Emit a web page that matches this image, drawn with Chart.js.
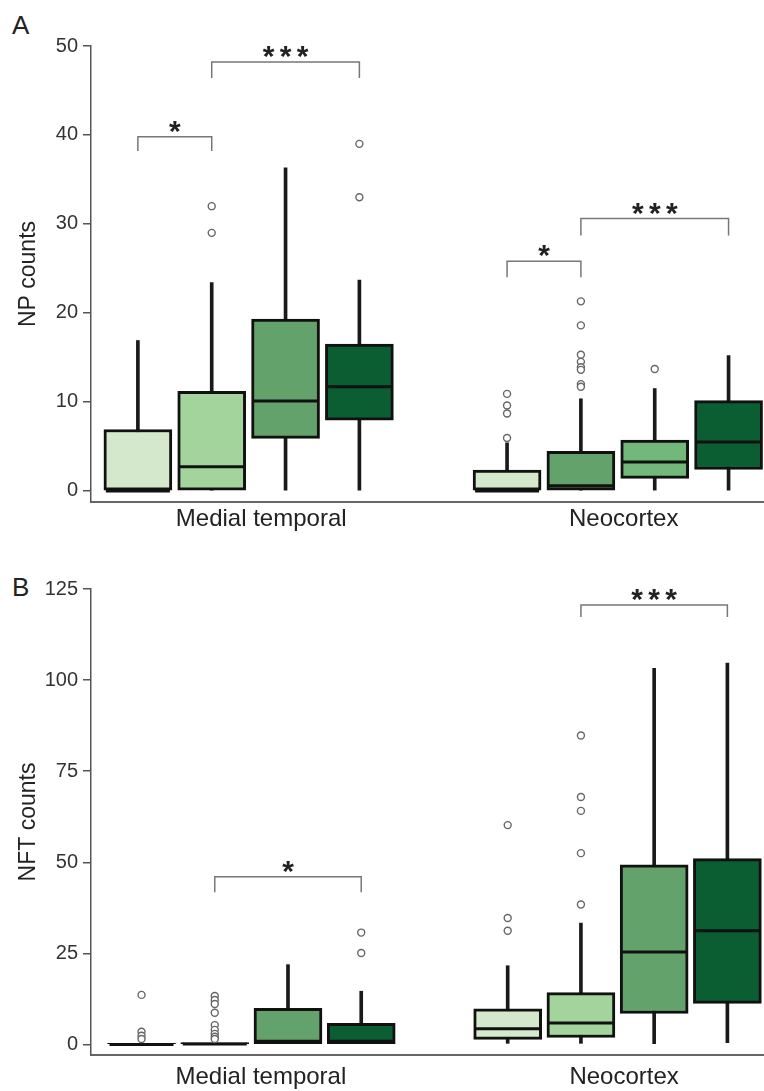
<!DOCTYPE html>
<html>
<head>
<meta charset="utf-8">
<script src="https://cdn.jsdelivr.net/npm/chart.js@4.4.0/dist/chart.umd.min.js"></script>
<style>
  body { margin: 0; background: #fff; width: 764px; height: 1091px; position: relative; overflow: hidden;
         font-family: "Liberation Sans", Arial, sans-serif; }
  .letter { position: absolute; left: 12px; font-size: 26px; line-height: 1; color: #222; }
  canvas { position: absolute; left: 0; }
</style>
</head>
<body>
<div class="letter" style="top:12px">A</div>
<div class="letter" style="top:574px">B</div>
<canvas id="npChart" width="764" height="545" style="top:0"></canvas>
<canvas id="nftChart" width="764" height="546" style="top:545px"></canvas>
<script>
const regions = ['Medial temporal', 'Neocortex'];

// each box: [whisker low, Q1, median, Q3, whisker high]
const npMedial = [
  [0, 0, 0, 6.9, 16.9],
  [0, 0, 2.7, 11.2, 23.4],
  [0, 5.9, 10.1, 19.3, 36.3],
  [0, 7.95, 11.7, 16.5, 23.7]
];
const npNeo = [
  [0, 0, 0, 2.35, 5.4],
  [0, 0, 0.57, 4.45, 10.35],
  [0, 1.4, 3.25, 5.7, 11.5],
  [0, 2.4, 5.5, 10.15, 15.2]
];
const npMedialOutliers = [[], [32.0, 29.0], [], [39.0, 33.0]];
const npNeoOutliers = [[10.9, 9.6, 8.7, 5.95], [21.3, 18.6, 15.3, 14.5, 13.9, 13.6, 12.0, 11.7], [13.7], []];
const npTicks = [0, 10, 20, 30, 40, 50];

const nftMedial = [
  [0, 0, 0, 0.3, 0.3],
  [0, 0, 0.1, 0.5, 0.5],
  [0, 0, 0.9, 9.9, 21.9],
  [0, 0, 0.9, 5.8, 14.6]
];
const nftNeo = [
  [0.3, 1.4, 4.3, 9.75, 21.6],
  [0.3, 1.9, 5.85, 14.2, 33.3],
  [0, 8.5, 25.4, 49.3, 103.2],
  [0.5, 11.25, 31.2, 51.0, 104.7]
];
const nftMedialOutliers = [[13.6, 3.5, 2.4, 1.5], [13.3, 12.2, 11.1, 8.7, 5.3, 4.0, 2.9, 2.1, 1.5], [], [30.7, 25.1]];
const nftNeoOutliers = [[60.2, 34.7, 31.2], [84.8, 67.9, 64.1, 52.5, 38.4], [], []];
const nftTicks = [0, 25, 50, 75, 100, 125];

// significance brackets: region, first box, last box, bracket height, bottom of the legs
const npSignif = [
  { region: 0, from: 0, to: 1, y: 39.8, drop: 38.2, label: '*' },
  { region: 0, from: 1, to: 3, y: 48.2, drop: 46.4, label: '***' },
  { region: 1, from: 0, to: 1, y: 25.8, drop: 24.0, label: '*' },
  { region: 1, from: 1, to: 3, y: 30.6, drop: 28.7, label: '***' }
];
const nftSignif = [
  { region: 0, from: 1, to: 3, y: 46.0, drop: 41.8, label: '*' },
  { region: 1, from: 1, to: 3, y: 120.6, drop: 117.3, label: '***' }
];

const lightest = '#d4e9cc', light = '#a3d49c', mid = '#64a26c', midLight = '#73b87b', dark = '#0a5e32';
const npColors = [[lightest, light, mid, dark], [lightest, mid, midLight, dark]];
const nftColors = [[lightest, light, mid, dark], [lightest, light, mid, dark]];

Chart.defaults.font.family = '"Liberation Sans", Arial, sans-serif';

const xOf = (region, k) => region * 5 + k;

const bracketPlugin = {
  id: 'brackets',
  afterDatasetsDraw(chart, args, opts) {
    const { ctx, scales: { x, y } } = chart;
    ctx.save();
    opts.items.forEach(b => {
      const x1 = x.getPixelForValue(xOf(b.region, b.from));
      const x2 = x.getPixelForValue(xOf(b.region, b.to));
      const yTop = y.getPixelForValue(b.y);
      const yBot = y.getPixelForValue(b.drop);
      ctx.strokeStyle = '#777';
      ctx.lineWidth = 1.5;
      ctx.beginPath();
      ctx.moveTo(x1, yBot);
      ctx.lineTo(x1, yTop);
      ctx.lineTo(x2, yTop);
      ctx.lineTo(x2, yBot);
      ctx.stroke();

      ctx.fillStyle = '#222';
      ctx.font = 'bold 30px "Liberation Sans", Arial, sans-serif';
      ctx.textAlign = 'center';
      ctx.textBaseline = 'alphabetic';
      const m = ctx.measureText('*');
      const cy = yTop - 10;
      const base = cy + (m.actualBoundingBoxAscent - m.actualBoundingBoxDescent) / 2;
      const n = b.label.length;
      const cx = (x1 + x2) / 2;
      for (let i = 0; i < n; i++) {
        ctx.fillText('*', cx + (i - (n - 1) / 2) * 17, base);
      }
    });
    ctx.restore();
  }
};

function makeChart(id, cfg) {
  const boxes = [], whiskers = [], medians = [], outliers = [], colors = [];
  cfg.groups.forEach((g, r) => {
    g.forEach((b, k) => {
      const x = xOf(r, k);
      whiskers.push({ x: x, y: [b[0], b[4]] });
      boxes.push({ x: x, y: [b[1], b[3]] });
      medians.push({ x: x, y: b[2] });
      colors.push(cfg.colors[r][k]);
      cfg.outliers[r][k].forEach(v => outliers.push({ x: x, y: v }));
    });
  });

  return new Chart(document.getElementById(id), {
    type: 'bar',
    data: {
      datasets: [
        { type: 'bar', data: whiskers, backgroundColor: '#1a1a1a', borderWidth: 0,
          barThickness: 3, maxBarThickness: 3, grouped: false, order: 3 },
        { type: 'bar', data: boxes, backgroundColor: colors, borderColor: '#111', borderWidth: 3,
          borderSkipped: false, barThickness: 68, maxBarThickness: 68, grouped: false, order: 2 },
        { type: 'scatter', data: medians, pointStyle: 'line', pointRadius: 32,
          pointBorderColor: '#111', pointBorderWidth: 3, order: 1 },
        { type: 'scatter', data: outliers, pointStyle: 'circle', pointRadius: 3.5,
          pointBackgroundColor: '#fff', pointBorderColor: '#666', pointBorderWidth: 1.4, order: 0 }
      ]
    },
    options: {
      responsive: false,
      animation: false,
      events: [],
      layout: { autoPadding: false, padding: { top: cfg.top, left: 0, right: 0, bottom: 0 } },
      plugins: {
        legend: { display: false },
        tooltip: { enabled: false },
        brackets: { items: cfg.signif }
      },
      scales: {
        x: {
          type: 'linear',
          min: cfg.xMin,
          max: cfg.xMax,
          offset: false,
          grid: { display: false, drawTicks: false },
          border: { display: true, color: '#666', width: 2 },
          afterBuildTicks: s => { s.ticks = cfg.labelPos.map(v => ({ value: v })); },
          afterFit: s => { s.height = cfg.xHeight; s.paddingLeft = 0; s.paddingRight = 0; },
          ticks: {
            autoSkip: false,
            maxRotation: 0,
            padding: cfg.labelPad,
            color: '#222',
            font: { size: 24 },
            callback: (v, i) => regions[i]
          }
        },
        y: {
          min: cfg.yMin,
          max: cfg.yMax,
          afterBuildTicks: s => { s.ticks = cfg.ticks.map(v => ({ value: v })); },
          afterFit: s => { s.width = 91; },
          grid: { display: true, drawOnChartArea: false, drawTicks: true, tickLength: 8, color: '#555', lineWidth: 1.5 },
          border: { display: true, color: '#555', width: 1.5 },
          ticks: { color: '#333', font: { size: 20 }, padding: 5 },
          title: { display: true, text: cfg.title, color: '#222', font: { size: 23 }, padding: { top: 15, bottom: 0 } }
        }
      }
    },
    plugins: [bracketPlugin]
  });
}

makeChart('npChart', {
  groups: [npMedial, npNeo],
  outliers: [npMedialOutliers, npNeoOutliers],
  colors: npColors,
  signif: npSignif,
  ticks: npTicks,
  title: 'NP counts',
  yMin: -1.25, yMax: 50,
  xMin: -0.635, xMax: 8.48,
  labelPos: [1.67, 6.58],
  top: 46, xHeight: 43, labelPad: 3
});

makeChart('nftChart', {
  groups: [nftMedial, nftNeo],
  outliers: [nftMedialOutliers, nftNeoOutliers],
  colors: nftColors,
  signif: nftSignif,
  ticks: nftTicks,
  title: 'NFT counts',
  yMin: -2.9, yMax: 125,
  xMin: -0.69, xMax: 8.5,
  labelPos: [1.63, 6.59],
  top: 44, xHeight: 36, labelPad: 8
});
</script>
</body>
</html>
